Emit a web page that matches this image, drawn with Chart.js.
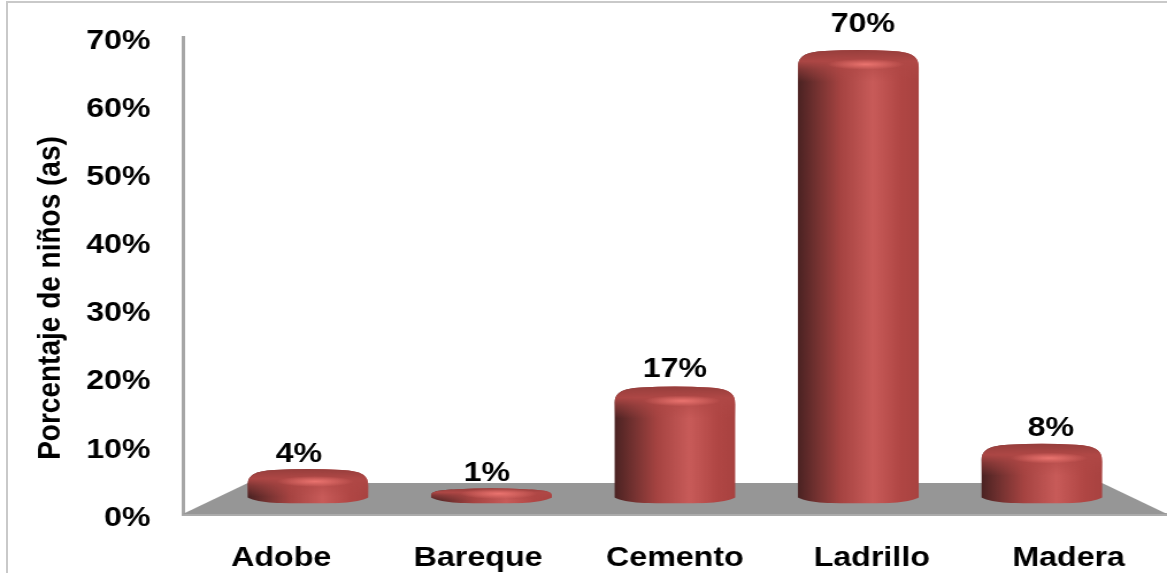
<!DOCTYPE html>
<html>
<head>
<meta charset="utf-8">
<script src="https://cdn.jsdelivr.net/npm/chart.js"></script>
<style>
  html, body { margin: 0; padding: 0; background: #fff; overflow: hidden; }
  #frame { position: absolute; left: 6px; top: 1px; right: 0; bottom: 0; border-left: 2px solid #c9c9c9; border-top: 2px solid #c9c9c9; }
  /* the reference is a screenshot stretched sideways, so the canvas is too */
  #chart { position: absolute; left: 0; top: 0; width: 1167px !important; height: 573px !important; }
</style>
</head>
<body>
<div id="frame"></div>
<canvas id="chart" width="1015" height="573"></canvas>
<script>
const categories = ['Adobe', 'Bareque', 'Cemento', 'Ladrillo', 'Madera']
const percentages = [4, 1, 17, 70, 8]
const yTicks = [0, 10, 20, 30, 40, 50, 60, 70]
const yTitle = 'Porcentaje de niños (as)'

// bars stand on a plane behind the axes, labels a bit nearer
const barDepth = { scale: 0.932, baseY: 494.5 }
const labelDepth = { scale: 0.955, baseY: 480 }
const FONT = '"Liberation Sans", Arial, sans-serif'

const project = (chart, bar, depth) => {
    const area = chart.chartArea
    const midX = (area.left + area.right) / 2
    return {
        x: midX + (bar.x - midX) * depth.scale,
        y: depth.baseY - (area.bottom - bar.y) * depth.scale,
        width: bar.width * depth.scale
    }
}

const drawCylinder = (ctx, cx, topY, bottomY, w) => {
    const left = cx - w / 2
    const right = cx + w / 2
    const h = bottomY - topY
    const shoulder = Math.min(18, h / 2)
    const foot = Math.min(6, h / 2)

    ctx.save()
    ctx.beginPath()
    ctx.moveTo(left, topY + shoulder)
    ctx.bezierCurveTo(left, topY + shoulder * 0.35, left + w * 0.06, topY + 2, left + w * 0.22, topY + 1)
    ctx.quadraticCurveTo(cx, topY - 1, right - w * 0.22, topY + 1)
    ctx.bezierCurveTo(right - w * 0.06, topY + 2, right, topY + shoulder * 0.35, right, topY + shoulder)
    ctx.lineTo(right, bottomY - foot)
    ctx.bezierCurveTo(right - w * 0.1, bottomY, cx + w * 0.2, bottomY, cx, bottomY)
    ctx.bezierCurveTo(cx - w * 0.2, bottomY, left + w * 0.1, bottomY, left, bottomY - foot)
    ctx.closePath()
    ctx.clip()

    const body = ctx.createLinearGradient(left, 0, right, 0)
    body.addColorStop(0, '#4a2222')
    body.addColorStop(0.12, '#6a2e2d')
    body.addColorStop(0.35, '#a54341')
    body.addColorStop(0.62, '#c85b59')
    body.addColorStop(0.85, '#b04644')
    body.addColorStop(1, '#a84240')
    ctx.fillStyle = body
    ctx.fillRect(left, topY - 2, w, h + 2)

    // top cap
    const capH = Math.min(32, h * 0.8)
    const cap = ctx.createLinearGradient(0, topY, 0, topY + capH)
    cap.addColorStop(0, 'rgba(150,62,60,1)')
    cap.addColorStop(0.35, 'rgba(176,72,70,0.95)')
    cap.addColorStop(0.6, 'rgba(176,72,70,0.5)')
    cap.addColorStop(1, 'rgba(176,72,70,0)')
    ctx.fillStyle = cap
    ctx.fillRect(left, topY - 2, w, capH + 2)

    // highlight on the shoulder
    ctx.translate(cx + w * 0.06, topY + capH * 0.45)
    ctx.scale(1, 0.16)
    const glow = ctx.createRadialGradient(0, 0, 0, 0, 0, w * 0.32)
    glow.addColorStop(0, 'rgba(240,120,115,0.9)')
    glow.addColorStop(1, 'rgba(240,120,115,0)')
    ctx.fillStyle = glow
    ctx.beginPath()
    ctx.arc(0, 0, w * 0.32, 0, Math.PI * 2)
    ctx.fill()
    ctx.restore()
}

const cylinders = {
    id: 'cylinders',
    beforeDatasetsDraw(chart) {
        const { ctx, chartArea: area } = chart
        const w = area.right - area.left
        ctx.save()
        ctx.fillStyle = '#969696'
        ctx.beginPath()
        ctx.moveTo(area.left, area.bottom)
        ctx.lineTo(area.left + w * 0.066, 483)
        ctx.lineTo(area.left + w * 0.934, 483)
        ctx.lineTo(area.right, area.bottom)
        ctx.closePath()
        ctx.fill()
        ctx.restore()
    },
    afterDatasetsDraw(chart) {
        const { ctx } = chart
        const bars = chart.getDatasetMeta(0).data
        bars.forEach((bar) => {
            const p = project(chart, bar, barDepth)
            drawCylinder(ctx, p.x, p.y, 503.5, p.width)
        })
        ctx.save()
        ctx.fillStyle = '#000'
        ctx.textAlign = 'center'
        ctx.textBaseline = 'middle'
        ctx.font = 'bold 28px ' + FONT
        bars.forEach((bar, i) => {
            const p = project(chart, bar, labelDepth)
            ctx.fillText(percentages[i] + '%', p.x, p.y)
        })
        ctx.restore()
        // axis title sits lower than the middle of the axis
        ctx.save()
        ctx.translate(44, 298)
        ctx.rotate(-Math.PI / 2)
        ctx.fillStyle = '#000'
        ctx.textAlign = 'center'
        ctx.textBaseline = 'middle'
        ctx.font = 'bold 28px ' + FONT
        ctx.fillText(yTitle, 0, 0)
        ctx.restore()
    }
}

new Chart(document.getElementById('chart'), {
    type: 'bar',
    data: {
        labels: categories,
        datasets: [{
            data: percentages,
            backgroundColor: 'transparent',
            barPercentage: 0.66,
            categoryPercentage: 1
        }]
    },
    plugins: [cylinders],
    options: {
        responsive: false,
        animation: false,
        layout: { padding: { top: 37, left: 0, right: 0, bottom: 0 } },
        plugins: { legend: { display: false }, tooltip: { enabled: false } },
        scales: {
            x: {
                afterFit: (s) => { s.height = 59 },
                grid: { display: false, drawTicks: false },
                border: { color: '#ababab', width: 3 },
                ticks: { color: '#000', padding: 27, maxRotation: 0, font: { family: FONT, weight: 'bold', size: 28 } }
            },
            y: {
                min: 0,
                max: 70,
                // tick padding would otherwise push the plot top and bottom in
                afterFit: (s) => { s.width = 159; s.paddingTop = 0; s.paddingBottom = 0 },
                afterBuildTicks: (s) => { s.ticks = yTicks.map(v => ({ value: v })) },
                grid: { display: false, drawTicks: false },
                border: { color: '#a6a6a6', width: 3 },
                ticks: { color: '#000', padding: 28, labelOffset: 4, callback: (v) => v + '%', font: { family: FONT, weight: 'bold', size: 28 } }
            }
        }
    }
})
</script>
</body>
</html>
